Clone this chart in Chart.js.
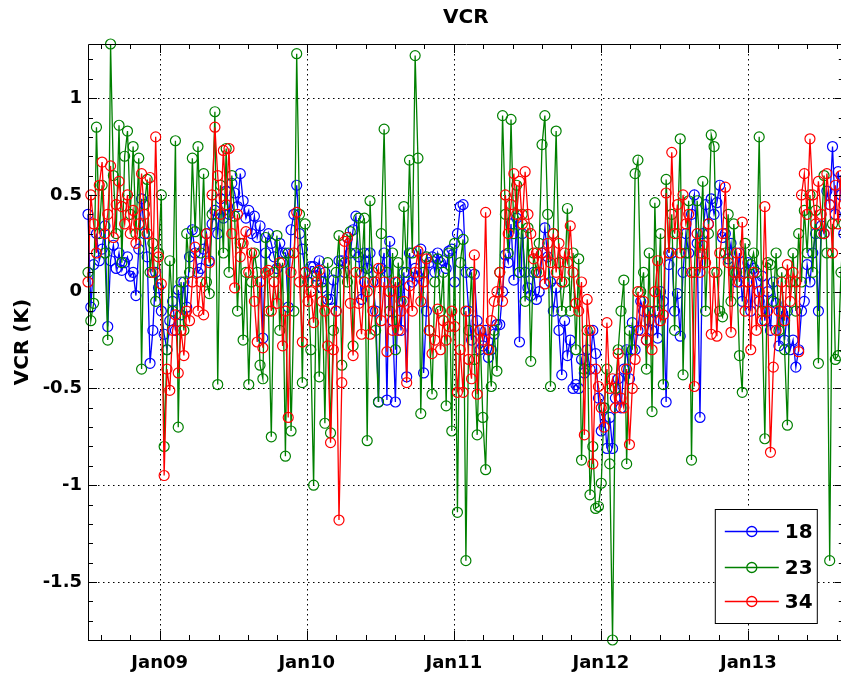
<!DOCTYPE html>
<html>
<head>
<meta charset="utf-8">
<title>VCR</title>
<script src="https://cdn.jsdelivr.net/npm/chart.js@4.4.1/dist/chart.umd.min.js"></script>
<style>
  html, body { margin: 0; padding: 0; background: #fff; overflow: hidden; }
  canvas { display: block; }
</style>
</head>
<body>
<canvas id="vcr" width="850" height="677"></canvas>
<script>
// weekly samples, the first one taken on 7 Jul 2008
const startDate = Date.UTC(2008, 6, 7);
const yearTicks = [2009, 2010, 2011, 2012, 2013];
const xTickLabels = ['Jan09', 'Jan10', 'Jan11', 'Jan12', 'Jan13'];
const yTicks = [-1.5, -1, -0.5, 0, 0.5, 1];
const seriesNames = ['18', '23', '34'];
const seriesColors = ['#0000ff', '#008000', '#ff0000'];

const vcr18 = [
  0.40, -0.08, 0.14, 0.30, 0.16, 0.22, 0.34, -0.18, 0.16, 0.24,
  0.12, 0.20, 0.11, 0.15, 0.18, 0.08, 0.10, -0.02, 0.22, 0.48,
  0.30, 0.18, -0.37, -0.20, 0.10, 0.02, -0.10, -0.22, -0.30, -0.15,
  -0.05, -0.20, 0.01, -0.12, 0.05, -0.08, 0.18, 0.32, 0.20, 0.10,
  0.12, 0.22, 0.30, 0.16, 0.35, 0.42, 0.30, 0.48, 0.38, 0.52,
  0.40, 0.56, 0.51, 0.44, 0.61, 0.47, 0.38, 0.42, 0.30, 0.39,
  0.28, 0.34, -0.24, 0.20, 0.30, 0.25, 0.18, 0.12, 0.25, 0.20,
  0.20, -0.08, 0.32, 0.40, 0.55, 0.30, 0.22, 0.10, 0.05, 0.13,
  0.13, 0.08, 0.16, 0.02, 0.10, -0.04, -0.04, 0.06, -0.10, 0.16,
  0.16, 0.10, 0.28, 0.20, 0.32, 0.39, 0.18, -0.04, 0.20, 0.12,
  0.20, 0.05, -0.10, -0.57, 0.12, 0.20, -0.56, 0.26, -0.15, -0.57,
  0.05, -0.20, 0.10, -0.44, 0.20, 0.05, 0.12, 0.08, 0.22, -0.42,
  -0.10, 0.15, 0.18, 0.10, 0.20, 0.15, 0.16, 0.12, 0.21, 0.22,
  0.05, 0.30, 0.44, 0.45, 0.10, -0.10, -0.25, 0.09, -0.15, -0.30,
  -0.28, -0.20, -0.34, -0.30, -0.22, -0.17, -0.17, 0.00, 0.19, 0.15,
  0.35, 0.06, 0.38, -0.26, 0.30, 0.10, 0.02, -0.02, 0.10, -0.04,
  0.00, 0.20, 0.33, 0.18, 0.05, -0.10, 0.02, -0.20, -0.43, -0.15,
  -0.33, -0.25, -0.50, -0.48, -0.50, -0.35, -0.42, -0.30, -0.40, -0.20,
  -0.32, -0.55, -0.72, -0.60, -0.81, -0.65, -0.81, -0.55, -0.45, -0.60,
  -0.40, -0.30, -0.45, -0.16, -0.30, -0.20, -0.05, -0.10, -0.25, -0.15,
  -0.20, -0.10, -0.24, 0.00, -0.05, -0.57, 0.14, 0.20, -0.10, -0.01,
  -0.23, 0.10, 0.30, 0.20, 0.40, 0.50, 0.25, -0.65, 0.30, 0.45,
  0.35, 0.48, 0.40, 0.46, 0.55, 0.28, 0.30, 0.17, 0.25, 0.10,
  0.05, 0.20, -0.05, 0.10, 0.15, -0.10, 0.12, 0.05, -0.05, 0.08,
  -0.15, 0.00, -0.20, 0.05, -0.06, -0.28, -0.10, -0.25, -0.10, -0.30,
  -0.25, -0.39, -0.30, -0.10, -0.05, 0.14, 0.05, 0.20, 0.30, -0.10,
  0.34, 0.30, 0.52, 0.45, 0.75, 0.40, 0.62, 0.50, 0.30
];

const vcr23 = [
  0.10, -0.15, -0.06, 0.85, 0.30, 0.55, 0.20, -0.25, 1.28, 0.60,
  0.30, 0.86, 0.15, 0.70, 0.83, 0.40, 0.75, 0.30, 0.69, -0.40,
  0.45, 0.58, 0.10, 0.25, -0.05, 0.20, 0.50, -0.80, -0.30, 0.16,
  -0.10, 0.78, -0.70, 0.05, -0.20, 0.30, 0.10, 0.69, 0.31, 0.75,
  0.20, 0.61, 0.05, -0.01, 0.40, 0.93, -0.48, 0.55, 0.20, 0.74,
  0.10, 0.60, 0.39, -0.10, 0.25, -0.25, 0.10, -0.48, 0.05, 0.20,
  0.10, -0.38, -0.45, 0.28, -0.10, -0.75, 0.10, 0.29, -0.20, 0.15,
  -0.85, 0.20, -0.72, -0.10, 1.23, 0.40, -0.47, 0.35, 0.05, -0.30,
  -1.00, 0.10, -0.44, 0.05, -0.68, 0.15, -0.73, -0.20, 0.10, 0.29,
  -0.38, 0.15, 0.05, 0.31, -0.28, 0.20, 0.38, 0.10, 0.38, -0.77,
  0.47, 0.10, -0.20, -0.57, 0.30, 0.84, 0.10, -0.10, 0.20, -0.30,
  0.15, -0.05, 0.44, 0.10, 0.68, 0.20, 1.22, 0.69, -0.63, 0.10,
  0.18, -0.20, -0.53, 0.05, 0.17, -0.10, 0.10, -0.59, 0.20, -0.72,
  0.25, -1.14, 0.15, 0.27, -1.39, -0.20, 0.10, -0.35, -0.74, -0.20,
  -0.65, -0.92, -0.30, -0.49, -0.20, -0.41, 0.10, 0.91, 0.40, 0.20,
  0.89, 0.30, 0.55, 0.10, 0.40, -0.05, 0.33, -0.36, 0.20, 0.10,
  0.25, 0.76, 0.91, 0.40, -0.49, 0.30, 0.83, 0.15, -0.10, 0.05,
  0.43, -0.10, 0.20, -0.30, 0.17, -0.87, -0.40, -0.20, -1.05, -0.80,
  -1.12, -1.11, -0.99, -0.60, -0.40, -0.89, -1.80, -0.50, -0.30, -0.10,
  0.06, -0.89, -0.20, -0.30, 0.61, 0.68, 0.00, 0.10, -0.40, 0.20,
  -0.62, 0.46, -0.10, 0.30, -0.48, 0.58, 0.20, 0.40, -0.20, 0.30,
  0.79, -0.43, 0.20, 0.47, -0.87, 0.10, 0.47, 0.20, 0.57, -0.10,
  0.30, 0.81, 0.75, 0.10, -0.10, -0.13, 0.20, 0.40, -0.05, 0.35,
  0.10, -0.33, -0.52, 0.25, 0.05, 0.14, 0.20, 0.10, 0.80, -0.10,
  -0.76, 0.15, 0.14, -0.05, 0.20, -0.20, 0.10, -0.30, -0.69, 0.05,
  0.20, -0.10, 0.30, 0.05, 0.42, 0.20, 0.50, 0.10, 0.42, -0.37,
  0.30, 0.60, 0.20, -1.39, 0.35, -0.35, -0.33, 0.10, 0.35
];

const vcr34 = [
  0.05, 0.50, 0.35, 0.20, 0.55, 0.67, 0.30, 0.40, 0.65, 0.28,
  0.45, 0.57, 0.44, 0.35, 0.50, 0.30, 0.42, 0.25, 0.35, 0.61,
  0.40, 0.30, 0.59, 0.10, 0.80, 0.18, 0.04, -0.95, -0.40, -0.51,
  -0.20, -0.12, -0.42, -0.20, -0.33, -0.10, -0.15, 0.05, 0.23, -0.10,
  0.05, -0.12, 0.30, 0.15, 0.50, 0.85, 0.60, 0.40, 0.73, 0.45,
  0.74, 0.30, 0.02, 0.40, 0.18, 0.25, 0.31, 0.10, 0.20, -0.05,
  -0.26, 0.05, -0.29, 0.10, 0.11, -0.10, 0.05, -0.06, 0.15, -0.28,
  -0.10, -0.65, 0.10, 0.20, 0.41, 0.05, -0.26, 0.10, -0.05, 0.00,
  -0.16, 0.05, 0.11, -0.05, -0.10, -0.28, -0.78, -0.30, -0.10, -1.18,
  -0.47, 0.26, 0.28, -0.06, -0.33, 0.10, -0.06, -0.22, 0.05, 0.00,
  -0.22, -0.10, 0.05, 0.12, -0.15, 0.05, -0.31, 0.00, -0.20, 0.05,
  -0.20, -0.10, -0.05, -0.47, 0.03, -0.10, 0.10, 0.21, -0.05, 0.05,
  0.17, -0.20, -0.32, -0.25, -0.09, -0.30, -0.15, -0.25, -0.18, -0.10,
  -0.18, -0.52, -0.30, -0.52, -0.10, -0.35, -0.45, 0.19, -0.53, -0.20,
  -0.25, 0.41, -0.30, -0.15, -0.05, 0.00, 0.10, -0.05, 0.50, 0.30,
  0.45, 0.61, 0.40, 0.57, 0.35, 0.62, 0.40, 0.30, 0.17, 0.20,
  0.10, 0.20, 0.04, 0.25, 0.15, 0.30, 0.10, 0.25, 0.05, 0.20,
  0.15, 0.34, 0.10, -0.06, -0.10, 0.05, -0.74, -0.04, -0.20, -0.89,
  -0.40, -0.49, -0.60, -0.70, -0.16, -0.50, -0.45, -0.60, -0.32, -0.55,
  -0.60, -0.40, -0.79, -0.50, -0.35, 0.00, -0.20, -0.05, -0.25, -0.10,
  -0.30, 0.00, 0.16, -0.15, -0.12, 0.51, 0.20, 0.72, 0.30, 0.45,
  0.20, 0.50, 0.35, 0.40, 0.10, -0.49, 0.30, 0.10, 0.24, 0.15,
  0.35, -0.22, 0.10, -0.23, 0.20, 0.30, 0.54, 0.15, -0.21, 0.10,
  0.20, 0.05, 0.36, -0.10, 0.05, -0.30, 0.10, -0.20, 0.00, -0.15,
  0.44, -0.10, -0.83, -0.39, -0.20, -0.10, 0.05, -0.15, 0.14, -0.05,
  0.10, 0.05, -0.31, 0.50, 0.61, 0.40, 0.79, 0.50, 0.35, 0.57,
  0.40, 0.30, 0.61, 0.45, 0.20, 0.55, 0.35, 0.60, 0.45
];

const dayOf = t => (t - startDate) / 86400000;
const xTickDays = yearTicks.map(y => dayOf(Date.UTC(y, 0, 1)));
const sampleDays = vcr18.map((_, i) => i * 7);
const allSeries = [vcr18, vcr23, vcr34];

const boldFont = size => ({ family: 'DejaVu Sans', size: size, weight: 'bold' });

// matlab style axes: dotted grid under the lines, box with inward ticks,
// legend box and title on top
const axesFrame = {
  id: 'axesFrame',
  beforeDatasetsDraw(chart) {
    const { ctx, chartArea: a, scales: { x, y } } = chart;
    ctx.save();
    ctx.strokeStyle = '#000';
    ctx.lineWidth = 1;
    ctx.setLineDash([1.5, 3.5]);
    ctx.beginPath();
    xTickDays.forEach(d => {
      const px = Math.round(x.getPixelForValue(d)) + 0.5;
      ctx.moveTo(px, a.top);
      ctx.lineTo(px, a.bottom);
    });
    yTicks.forEach(v => {
      const py = Math.round(y.getPixelForValue(v)) + 0.5;
      ctx.moveTo(a.left, py);
      ctx.lineTo(a.right, py);
    });
    ctx.stroke();
    ctx.restore();
  },
  afterDatasetsDraw(chart) {
    const { ctx, chartArea: a, scales: { x, y } } = chart;
    ctx.save();
    ctx.strokeStyle = '#000';
    ctx.lineWidth = 1;
    ctx.beginPath();

    // x ticks: years split in five, on bottom and top edges
    const xMinor = [];
    for (let i = 0; i < xTickDays.length - 1; i++) {
      const step = (xTickDays[i + 1] - xTickDays[i]) / 5;
      for (let k = 1; k < 5; k++) xMinor.push(xTickDays[i] + k * step);
    }
    for (let d = xTickDays[0] - 73; d >= x.min; d -= 73) xMinor.push(d);
    for (let d = xTickDays[xTickDays.length - 1] + 73; d <= x.max; d += 73) xMinor.push(d);
    const xMark = (d, len) => {
      const px = Math.round(x.getPixelForValue(d)) + 0.5;
      ctx.moveTo(px, a.bottom); ctx.lineTo(px, a.bottom - len);
      ctx.moveTo(px, a.top); ctx.lineTo(px, a.top + len);
    };
    xTickDays.forEach(d => xMark(d, 9));
    xMinor.forEach(d => xMark(d, 5));

    // y ticks every 0.1, longer at the labelled ones
    for (let k = -18; k <= 12; k++) {
      const py = Math.round(y.getPixelForValue(k / 10)) + 0.5;
      const len = k % 5 === 0 ? 9 : 5;
      ctx.moveTo(a.left, py); ctx.lineTo(a.left + len, py);
      ctx.moveTo(a.right, py); ctx.lineTo(a.right - len, py);
    }

    // axes box
    ctx.rect(Math.round(a.left) + 0.5, Math.round(a.top) + 0.5,
      Math.round(a.right - a.left), Math.round(a.bottom - a.top));
    ctx.stroke();

    // legend
    const lx = a.right - 129, ly = a.bottom - 131, lw = 102, lh = 114;
    ctx.fillStyle = '#fff';
    ctx.fillRect(lx, ly, lw, lh);
    ctx.strokeRect(lx + 0.5, ly + 0.5, lw, lh);
    ctx.font = 'bold 20px "DejaVu Sans"';
    ctx.textAlign = 'left';
    ctx.textBaseline = 'middle';
    const rowY = [22, 58, 92];
    ctx.lineWidth = 1.3;
    seriesNames.forEach((name, k) => {
      const ry = ly + rowY[k] + 0.5;
      ctx.strokeStyle = seriesColors[k];
      ctx.beginPath();
      ctx.moveTo(lx + 10, ry); ctx.lineTo(lx + 64, ry);
      ctx.stroke();
      ctx.beginPath();
      ctx.arc(lx + 37, ry, 5, 0, Math.PI * 2);
      ctx.stroke();
      ctx.fillStyle = '#000';
      ctx.fillText(name, lx + 70, ry + 1);
    });

    // title and y label
    ctx.fillStyle = '#000';
    ctx.textAlign = 'center';
    ctx.fillText('VCR', (a.left + a.right) / 2, 18);
    ctx.translate(23, (a.top + a.bottom) / 2);
    ctx.rotate(-Math.PI / 2);
    ctx.fillText('VCR (K)', 0, 0);
    ctx.restore();
  }
};

new Chart(document.getElementById('vcr'), {
  type: 'line',
  data: {
    datasets: allSeries.map((vals, k) => ({
      label: seriesNames[k],
      data: vals.map((v, i) => ({ x: sampleDays[i], y: v })),
      borderColor: seriesColors[k],
      borderWidth: 1.3,
      pointStyle: 'circle',
      pointRadius: 5,
      pointBorderWidth: 1.2,
      pointBorderColor: seriesColors[k],
      pointBackgroundColor: 'rgba(0,0,0,0)',
      tension: 0,
      fill: false,
      clip: false,
      order: 3 - k
    }))
  },
  options: {
    responsive: false,
    animation: false,
    devicePixelRatio: 1,
    layout: { padding: { top: 44, right: 3, left: 0, bottom: 0 } },
    plugins: {
      legend: { display: false },
      title: { display: false },
      tooltip: { enabled: false }
    },
    scales: {
      x: {
        type: 'linear',
        min: 0,
        max: sampleDays[sampleDays.length - 1],
        afterBuildTicks: s => { s.ticks = xTickDays.map(v => ({ value: v })); },
        afterFit: s => { s.height = 37; },
        grid: { display: false, drawTicks: false },
        border: { display: false },
        ticks: {
          callback: (v, i) => xTickLabels[i],
          font: boldFont(18),
          color: '#000',
          padding: 13,
          maxRotation: 0,
          autoSkip: false
        }
      },
      y: {
        type: 'linear',
        min: -1.80,
        max: 1.28,
        afterBuildTicks: s => { s.ticks = yTicks.map(v => ({ value: v })); },
        afterFit: s => { s.width = 88; },
        grid: { display: false, drawTicks: false },
        border: { display: false },
        ticks: {
          callback: v => String(v),
          font: boldFont(18),
          color: '#000',
          padding: 6
        }
      }
    }
  },
  plugins: [axesFrame]
});
</script>
</body>
</html>
